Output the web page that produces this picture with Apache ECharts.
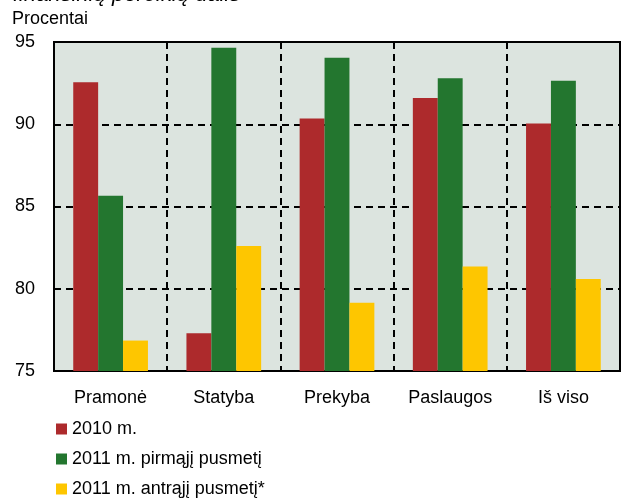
<!DOCTYPE html>
<html>
<head>
<meta charset="utf-8">
<script src="https://cdn.jsdelivr.net/npm/echarts@6/dist/echarts.min.js"></script>
<style>
html,body{margin:0;padding:0;background:#fff;}
#c{width:623px;height:498px;}
</style>
</head>
<body>
<div id="c"></div>
<script>
var categories = ['Pramonė', 'Statyba', 'Prekyba', 'Paslaugos', 'Iš viso'];
var s2010 = [92.55, 77.3, 90.35, 91.6, 90.05];
var s2011a = [85.65, 94.65, 94.05, 92.8, 92.65];
var s2011b = [76.85, 82.6, 79.15, 81.35, 80.6];
var seriesNames = ['2010 m.', '2011 m. pirmąjį pusmetį', '2011 m. antrąjį pusmetį*'];
var yTicks = [75, 80, 85, 90, 95];

var font = '"Liberation Sans", Arial, sans-serif';
var chart = echarts.init(document.getElementById('c'), null, {renderer: 'canvas'});
chart.setOption({
  animation: false,
  textStyle: {fontFamily: font},
  graphic: [
    {type: 'text', left: 13, top: -16, style: {text: 'finansinių poreikių dalis', font: 'italic 22px ' + font, fill: '#000'}},
    {type: 'text', left: 12, top: 10, style: {text: 'Procentai', font: '18px ' + font, fill: '#000'}}
  ],
  grid: {left: 54, right: 3, top: 42, bottom: 127, show: true, backgroundColor: '#dce4df', borderColor: '#000', borderWidth: 2, z: 0},
  legend: {
    orient: 'vertical', left: 56, top: 420, padding: 0, height: 90,
    itemWidth: 11, itemHeight: 11, itemGap: 12,
    icon: 'rect',
    textStyle: {fontSize: 18, color: '#000', fontFamily: font, lineHeight: 18},
    data: seriesNames
  },
  xAxis: {
    type: 'category', data: categories,
    axisLine: {show: false}, axisTick: {show: false},
    axisLabel: {fontSize: 18, color: '#000', margin: 18, fontFamily: font},
    splitLine: {show: true, lineStyle: {color: '#000', width: 2, type: [7, 5]}}
  },
  yAxis: {
    type: 'value', min: 75, max: 95, interval: 5,
    axisLine: {show: false}, axisTick: {show: false},
    axisLabel: {fontSize: 18, color: '#000', margin: 19, fontFamily: font,
      formatter: function (v) { return yTicks.indexOf(v) >= 0 ? String(v) : ''; }},
    splitLine: {show: true, lineStyle: {color: '#000', width: 2, type: [7, 5]}}
  },
  series: [
    {name: seriesNames[0], type: 'bar', data: s2010, itemStyle: {color: '#ad2a2c'}, barGap: '0%', barCategoryGap: '34%'},
    {name: seriesNames[1], type: 'bar', data: s2011a, itemStyle: {color: '#23762f'}},
    {name: seriesNames[2], type: 'bar', data: s2011b, itemStyle: {color: '#fec600'}}
  ]
});
</script>
</body>
</html>
